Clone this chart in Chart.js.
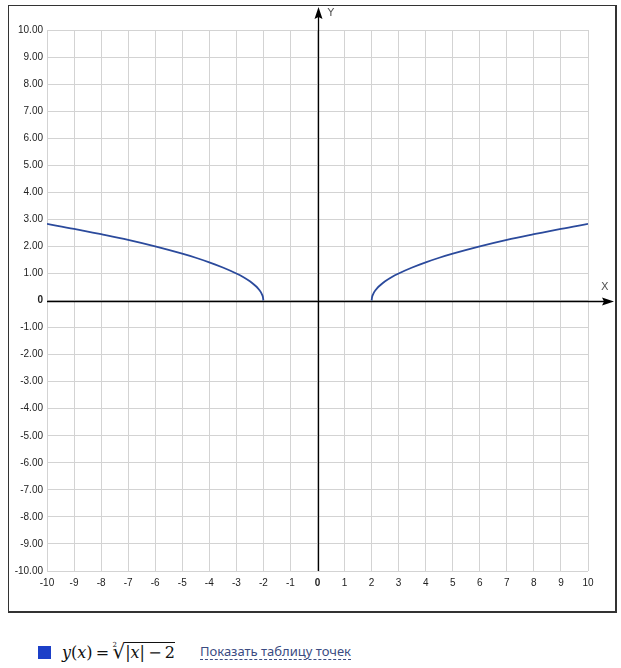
<!DOCTYPE html>
<html>
<head>
<meta charset="utf-8">
<script src="https://cdn.jsdelivr.net/npm/chart.js@4/dist/chart.umd.min.js"></script>
<style>
  body { margin: 0; background: #fff; width: 621px; height: 668px; position: relative; overflow: hidden; }
  .box { position: absolute; left: 8px; top: 5px; width: 606px; height: 605px; border: 1px solid #333; border-right-width: 2px; border-bottom-width: 2px; }
  #graph { position: absolute; left: 0; top: 0; }
  .swatch { position: absolute; left: 38px; top: 646px; width: 13px; height: 13px; background: #1c3fc8; }
  .formula { position: absolute; left: 62px; top: 636px; height: 30px; line-height: 30px; font-family: "DejaVu Serif", "Liberation Serif", serif; font-size: 16px; color: #111; white-space: nowrap; }
  .formula i { font-style: italic; }
  .root { position: relative; display: inline-block; font-size: 20px; }
  .root sup { font-size: 7px; position: absolute; left: 0px; top: -6px; }
  .rad { display: inline-block; border-top: 1px solid #111; line-height: 18px; padding-top: 1px; }
  .link { position: absolute; left: 200px; top: 644px; font-family: "Noto Sans", "Open Sans", sans-serif; font-size: 13px; color: #3a4b82; border-bottom: 1px dashed #3a4b82; line-height: 15px; }
</style>
</head>
<body>
<div class="box"></div>
<canvas id="graph" width="621" height="620"></canvas>
<div class="swatch"></div>
<div class="formula"><i>y</i>(<i>x</i>)&thinsp;=&thinsp;<span class="root"><sup>2</sup>√</span><span class="rad">|<i>x</i>|&thinsp;−&thinsp;2</span></div>
<div class="link">Показать таблицу точек</div>
<script>
// tick labels
const xTicks = [-10, -9, -8, -7, -6, -5, -4, -3, -2, -1, 0, 1, 2, 3, 4, 5, 6, 7, 8, 9, 10];
const yTicks = [-10, -9, -8, -7, -6, -5, -4, -3, -2, -1, 0, 1, 2, 3, 4, 5, 6, 7, 8, 9, 10];

// right branch
const rightX = [2, 2.02, 2.05, 2.1, 2.2, 2.35, 2.5, 2.75, 3, 3.5, 4, 4.5, 5, 6, 7, 8, 9, 10];
const rightY = [0, 0.14, 0.22, 0.32, 0.45, 0.59, 0.71, 0.87, 1, 1.22, 1.41, 1.58, 1.73, 2, 2.24, 2.45, 2.65, 2.83];
// left branch
const leftX = [-10, -9, -8, -7, -6, -5, -4.5, -4, -3.5, -3, -2.75, -2.5, -2.35, -2.2, -2.1, -2.05, -2.02, -2];
const leftY = [2.83, 2.65, 2.45, 2.24, 2, 1.73, 1.58, 1.41, 1.22, 1, 0.87, 0.71, 0.59, 0.45, 0.32, 0.22, 0.14, 0];

const lineColor = "#2b4a9c";

const toPoints = (xs, ys) => xs.map((x, i) => ({ x: x, y: ys[i] }));

const axesArrows = {
  id: "axesArrows",
  beforeDatasetsDraw(chart) {
    const ctx = chart.ctx;
    const xs = chart.scales.x, ys = chart.scales.y;
    const x0 = Math.round(xs.getPixelForValue(0)) + 0.5;
    const y0 = Math.round(ys.getPixelForValue(0)) + 0.5;
    const area = chart.chartArea;
    ctx.save();
    ctx.strokeStyle = "#000";
    ctx.fillStyle = "#000";
    ctx.lineWidth = 1.3;
    // X axis
    ctx.beginPath();
    ctx.moveTo(area.left, y0);
    ctx.lineTo(608, y0);
    ctx.stroke();
    ctx.beginPath();
    ctx.moveTo(614, y0);
    ctx.lineTo(602, y0 - 4);
    ctx.lineTo(604, y0);
    ctx.lineTo(602, y0 + 4);
    ctx.closePath();
    ctx.fill();
    // Y axis
    ctx.beginPath();
    ctx.moveTo(x0, area.bottom);
    ctx.lineTo(x0, 14);
    ctx.stroke();
    ctx.beginPath();
    ctx.moveTo(x0, 7);
    ctx.lineTo(x0 - 4, 19);
    ctx.lineTo(x0, 17);
    ctx.lineTo(x0 + 4, 19);
    ctx.closePath();
    ctx.fill();
    // axis names
    ctx.fillStyle = "#555";
    ctx.font = "11px 'DejaVu Sans', sans-serif";
    ctx.textAlign = "left";
    ctx.textBaseline = "middle";
    ctx.fillText("Y", x0 + 9, 13);
    ctx.fillText("X", 601, y0 - 14);
    ctx.restore();
  }
};

const tickFont = (c) => ({
  family: "'Liberation Sans', Arial, sans-serif",
  size: 10,
  weight: c.tick && c.tick.value === 0 ? "bold" : "normal"
});

new Chart(document.getElementById("graph"), {
  type: "scatter",
  data: {
    datasets: [
      {
        label: "left",
        data: toPoints(leftX, leftY),
        showLine: true,
        borderColor: lineColor,
        borderWidth: 1.8,
        pointRadius: 0,
        cubicInterpolationMode: "monotone"
      },
      {
        label: "right",
        data: toPoints(rightX, rightY),
        showLine: true,
        borderColor: lineColor,
        borderWidth: 1.8,
        pointRadius: 0,
        cubicInterpolationMode: "monotone"
      }
    ]
  },
  options: {
    responsive: false,
    animation: false,
    events: [],
    layout: { padding: { left: 0, right: 33, top: 30, bottom: 29 } },
    plugins: { legend: { display: false }, tooltip: { enabled: false } },
    scales: {
      x: {
        type: "linear",
        min: -10,
        max: 10,
        afterBuildTicks: (s) => { s.ticks = xTicks.map((v) => ({ value: v })); },
        afterFit: (s) => { s.height = 20; },
        grid: { color: "#d3d3d3", lineWidth: 1, drawTicks: false },
        border: { display: false },
        ticks: {
          padding: 6,
          color: "#222",
          maxRotation: 0,
          autoSkip: false,
          font: tickFont,
          callback: (v) => String(v)
        }
      },
      y: {
        type: "linear",
        min: -10,
        max: 10,
        afterBuildTicks: (s) => { s.ticks = yTicks.map((v) => ({ value: v })); },
        afterFit: (s) => { s.width = 47; },
        grid: { color: "#d3d3d3", lineWidth: 1, drawTicks: false },
        border: { display: false },
        ticks: {
          padding: 4,
          color: "#222",
          autoSkip: false,
          font: tickFont,
          callback: (v) => (v === 0 ? "0" : v.toFixed(2))
        }
      }
    }
  },
  plugins: [axesArrows]
});
</script>
</body>
</html>
